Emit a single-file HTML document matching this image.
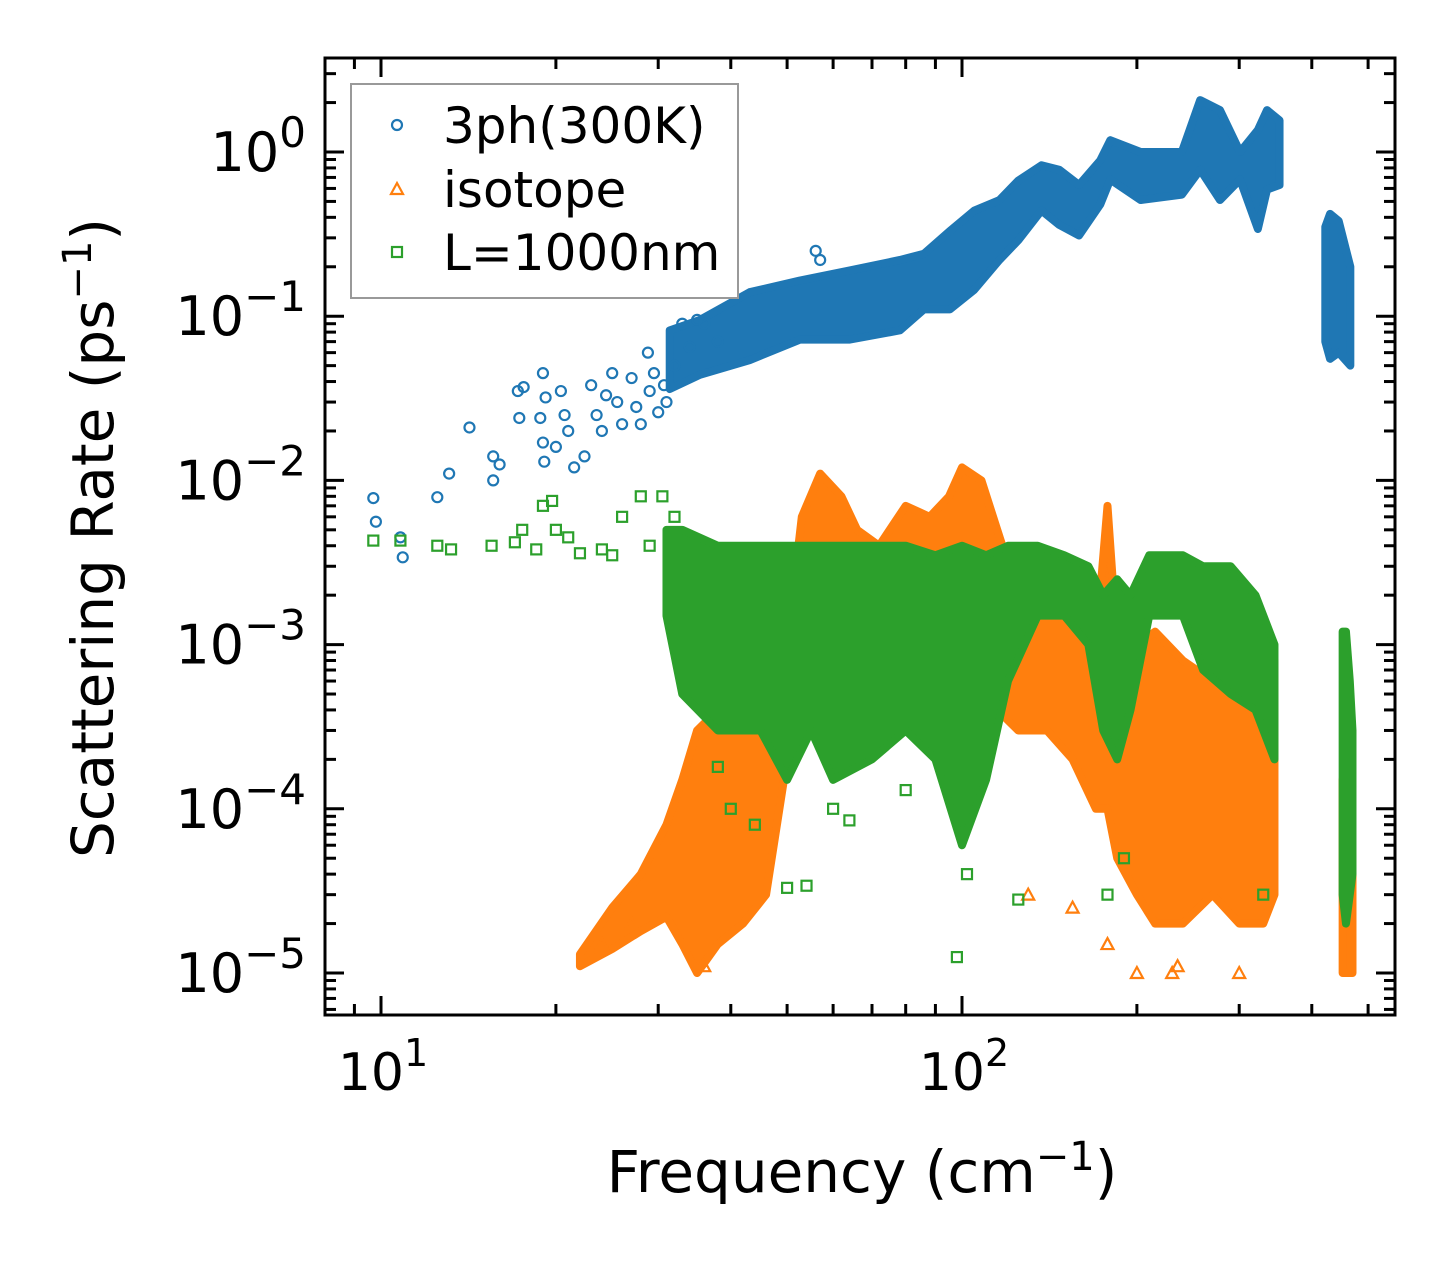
<!DOCTYPE html>
<html><head><meta charset="utf-8"><style>
html,body{margin:0;padding:0;background:#fff;}
svg{display:block;font-family:"DejaVu Sans","Liberation Sans",sans-serif;}
</style></head><body>
<svg id="chart" width="1455" height="1265" viewBox="0 0 1455 1265" xmlns="http://www.w3.org/2000/svg">
<rect width="1455" height="1265" fill="#fff"/>
<g id="plot"></g>
<g id="axes"></g>
<text x="862" y="1192" font-size="58" text-anchor="middle">Frequency (cm<tspan dy="-22" font-size="40">−1</tspan><tspan dy="22">)</tspan></text>
<text transform="translate(113,538) rotate(-90)" font-size="58" text-anchor="middle">Scattering Rate (ps<tspan dy="-22" font-size="40">−1</tspan><tspan dy="22">)</tspan></text>
<g>
<rect x="351" y="84" width="387" height="214" fill="#fff" stroke="#999" stroke-width="2"/>
<circle cx="397" cy="125" r="5" fill="none" stroke="#1f77b4" stroke-width="2.2"/>
<text x="443" y="143" font-size="50">3ph(300K)</text>
<polygon points="397,183 403,194 391,194" fill="none" stroke="#ff7f0e" stroke-width="2.2"/>
<text x="443" y="207" font-size="50">isotope</text>
<rect x="392" y="247" width="10" height="10" fill="none" stroke="#2ca02c" stroke-width="2.2"/>
<text x="443" y="270" font-size="50">L=1000nm</text>
</g>
</svg>
<script>
// ---- data (frequency cm^-1, rate ps^-1) ----
const blueBandF  = [31.4,35.4,43.1,52.6,64.1,78.2,86,95.3,105,116,125,137,147,159,173,180,203,239,257,278,301,323,335,352];
const blueBandLo = [0.036,0.044,0.054,0.072,0.072,0.082,0.11,0.11,0.145,0.22,0.29,0.44,0.36,0.31,0.48,0.68,0.51,0.55,0.78,0.51,0.68,0.34,0.59,0.63];
const blueBandHi = [0.082,0.095,0.14,0.165,0.19,0.22,0.24,0.33,0.44,0.51,0.67,0.83,0.78,0.63,0.89,1.18,1.0,1.0,2.07,1.8,1.0,1.36,1.8,1.56];
const blueBand2F  = [422,430,445,466];
const blueBand2Lo = [0.07,0.055,0.06,0.05];
const blueBand2Hi = [0.35,0.42,0.38,0.2];
const blueF = [9.7,9.8,10.8,10.9,12.5,13.1,14.2,15.6,16,15.6,17.2,17.6,17.3,19,19.2,18.8,19,19.1,20.4,20,20.7,21,21.5,22.4,23,23.5,24,24.4,25,25.5,26,27,27.5,28,28.8,29,29.5,30,30.7,31,32,33,34,35,36,38,56,57];
const blueV = [0.0078,0.0056,0.0045,0.0034,0.0079,0.011,0.021,0.014,0.0125,0.01,0.035,0.037,0.024,0.045,0.032,0.024,0.017,0.013,0.035,0.016,0.025,0.02,0.012,0.014,0.038,0.025,0.02,0.033,0.045,0.03,0.022,0.042,0.028,0.022,0.06,0.035,0.045,0.026,0.038,0.03,0.05,0.09,0.065,0.095,0.09,0.07,0.25,0.22];

const orBandF  = [22,25,28,31,33,35,38,42,46,50,53,57,62,66,72,80,88,95,100,108,115,125,140,155,170,178,185,200,215,240,270,300,330,345];
const orBandLo = [1.1e-5,1.4e-5,1.8e-5,2.2e-5,1.5e-5,1e-5,1.5e-5,2e-5,3e-5,2e-4,5e-4,5e-4,5e-4,4e-4,3e-4,4e-4,5e-4,4e-4,3e-4,5e-4,4e-4,3e-4,3e-4,2e-4,1e-4,1e-4,5e-5,3e-5,2e-5,2e-5,3e-5,2e-5,2e-5,3e-5];
const orBandHi = [1.3e-5,2.5e-5,4e-5,8e-5,1.5e-4,3e-4,4e-4,5e-4,4e-4,1e-3,6e-3,1.1e-2,8e-3,5e-3,4e-3,7e-3,6e-3,8e-3,1.2e-2,1e-2,5e-3,2e-3,2e-3,1.5e-3,1e-3,7e-3,1e-3,1e-3,1.2e-3,8e-4,6e-4,5e-4,3e-4,8e-4];
const orBand2F  = [452,458,465,470];
const orBand2Lo = [1e-5,1e-5,1e-5,1e-5];
const orBand2Hi = [1.5e-4,2e-4,1e-4,5e-5];
const orF = [178,200,230,235,300,155,130,24,27,36];
const orV = [1.5e-5,1e-5,1e-5,1.1e-5,1e-5,2.5e-5,3e-5,1.5e-5,2e-5,1.1e-5];

const grBandF  = [31,33,38,45,50,55,60,70,80,90,100,110,120,135,150,165,175,185,195,210,240,260,290,320,345];
const grBandLo = [1.5e-3,5e-4,3e-4,3e-4,1.5e-4,3e-4,1.5e-4,2e-4,3e-4,2e-4,6e-5,1.5e-4,6e-4,1.5e-3,1.5e-3,1e-3,3e-4,2e-4,4e-4,1.5e-3,1.5e-3,7e-4,5e-4,4e-4,2e-4];
const grBandHi = [5e-3,5e-3,4e-3,4e-3,4e-3,4e-3,4e-3,4e-3,4e-3,3.5e-3,4e-3,3.5e-3,4e-3,4e-3,3.5e-3,3e-3,2e-3,2.5e-3,2e-3,3.5e-3,3.5e-3,3e-3,3e-3,2e-3,1e-3];
const grBand2F  = [452,458,465,470];
const grBand2Lo = [3e-5,2e-5,3e-5,4e-5];
const grBand2Hi = [1.2e-3,1.2e-3,6e-4,3e-4];
const grF = [9.7,10.8,12.5,13.2,15.5,17,17.5,18.5,19,19.7,20,21,22,24,25,26,28,29,30.5,32,38,40,44,50,54,60,64,80,98,102,125,178,190,330];
const grV = [4.3e-3,4.3e-3,4e-3,3.8e-3,4e-3,4.2e-3,5e-3,3.8e-3,7e-3,7.5e-3,5e-3,4.5e-3,3.6e-3,3.8e-3,3.5e-3,6e-3,8e-3,4e-3,8e-3,6e-3,1.8e-4,1e-4,8e-5,3.3e-5,3.4e-5,1e-4,8.5e-5,1.3e-4,1.25e-5,4e-5,2.8e-5,3e-5,5e-5,3e-5];

const xTickVals = [10,100];
const xTickLabels = ['10','10'];
const xTickExps = ['1','2'];
const yTickVals = [1,0.1,0.01,0.001,0.0001,0.00001];
const yTickExps = ['0','−1','−2','−3','−4','−5'];

// ---- axes ----
const L=325,R=1395,T=58,B=1015;
const X = f => 381 + (Math.log10(f)-1)*581;
const Y = v => 152 - Math.log10(v)*164.2;
const NS='http://www.w3.org/2000/svg';
const plot=document.getElementById('plot');
const axes=document.getElementById('axes');
function mk(tag,parent){const e=document.createElementNS(NS,tag);parent.appendChild(e);return e;}

function band(F,Lo,Hi,color,name){
  const pts=[];
  for(let i=0;i<F.length;i++) pts.push(X(F[i])+','+Y(Hi[i]));
  for(let i=F.length-1;i>=0;i--) pts.push(X(F[i])+','+Y(Lo[i]));
  const p=mk('polygon',plot);
  
  
  p.setAttribute('points',pts.join(' '));
  p.setAttribute('fill',color);p.setAttribute('stroke',color);p.setAttribute('stroke-width','8');p.setAttribute('stroke-linejoin','round');
}
function circles(F,V,name){
  for(let i=0;i<F.length;i++){const c=mk('circle',plot);
    
    
    c.setAttribute('cx',X(F[i]));c.setAttribute('cy',Y(V[i]));c.setAttribute('r',5);
    c.setAttribute('fill','none');c.setAttribute('stroke','#1f77b4');c.setAttribute('stroke-width','2.2');}
}
function tris(F,V,name){
  for(let i=0;i<F.length;i++){const x=X(F[i]),y=Y(V[i]);const c=mk('polygon',plot);
    
    
    c.setAttribute('points',`${x},${y-6} ${x+6},${y+5} ${x-6},${y+5}`);
    c.setAttribute('fill','none');c.setAttribute('stroke','#ff7f0e');c.setAttribute('stroke-width','2.2');}
}
function squares(F,V,name){
  for(let i=0;i<F.length;i++){const c=mk('rect',plot);
    
    
    c.setAttribute('x',X(F[i])-5);c.setAttribute('y',Y(V[i])-5);c.setAttribute('width',10);c.setAttribute('height',10);
    c.setAttribute('fill','none');c.setAttribute('stroke','#2ca02c');c.setAttribute('stroke-width','2.2');}
}
band(blueBandF,blueBandLo,blueBandHi,'#1f77b4','3ph-dense-band');
band(blueBand2F,blueBand2Lo,blueBand2Hi,'#1f77b4','3ph-high-band');
circles(blueF,blueV,'3ph-point');
band(orBandF,orBandLo,orBandHi,'#ff7f0e','isotope-dense-band');
band(orBand2F,orBand2Lo,orBand2Hi,'#ff7f0e','isotope-high-band');
tris(orF,orV,'isotope-point');
band(grBandF,grBandLo,grBandHi,'#2ca02c','boundary-dense-band');
band(grBand2F,grBand2Lo,grBand2Hi,'#2ca02c','boundary-high-band');
squares(grF,grV,'boundary-point');

function line(x1,y1,x2,y2,name){const l=mk('line',axes);
  
  
  l.setAttribute('x1',x1);l.setAttribute('y1',y1);l.setAttribute('x2',x2);l.setAttribute('y2',y2);
  l.setAttribute('stroke','#000');l.setAttribute('stroke-width','3');}
// frame
const fr=mk('rect',axes);


fr.setAttribute('x',L);fr.setAttribute('y',T);fr.setAttribute('width',R-L);fr.setAttribute('height',B-T);
fr.setAttribute('fill','none');fr.setAttribute('stroke','#000');fr.setAttribute('stroke-width','3');
// x ticks
for(let d=0;d<=2;d++){for(let m=1;m<10;m++){const f=m*Math.pow(10,d);const x=X(f);
  if(x<L||x>R) continue; const len=m===1?19:11;
  line(x,B,x,B-len,'x-tick');line(x,T,x,T+len,'x-tick-top');}}
xTickVals.forEach((v,i)=>{const t=mk('text',axes);
  
  
  t.setAttribute('x',X(v)+2);t.setAttribute('y',1090);t.setAttribute('font-size','52');t.setAttribute('text-anchor','middle');
  t.innerHTML=xTickLabels[i]+'<tspan dy="-24" font-size="38">'+xTickExps[i]+'</tspan>';});
// y ticks
for(let d=-6;d<=0;d++){for(let m=1;m<10;m++){const v=m*Math.pow(10,d);const y=Y(v);
  if(y<T||y>B) continue; const len=m===1?19:11;
  line(L,y,L+len,y,'y-tick');line(R,y,R-len,y,'y-tick-right');}}
yTickVals.forEach((v,i)=>{const t=mk('text',axes);
  
  
  t.setAttribute('x',306);t.setAttribute('y',Y(v)+19);t.setAttribute('font-size','54');t.setAttribute('text-anchor','end');
  t.innerHTML='10<tspan dy="-24" font-size="42">'+yTickExps[i]+'</tspan>';});
</script>
</body></html>
